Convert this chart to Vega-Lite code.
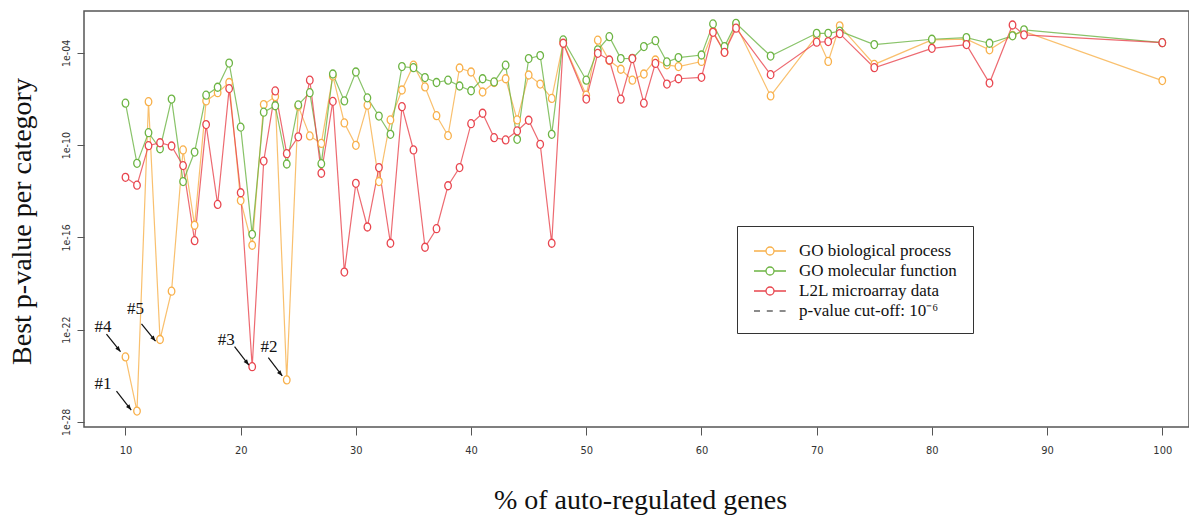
{
  "$schema": "https://vega.github.io/schema/vega-lite/v6.json",
  "width": 1105,
  "height": 416,
  "autosize": {"type": "none"},
  "padding": {"left": 84, "top": 11, "right": 0, "bottom": 91},
  "background": "white",
  "config": {
    "view": {"stroke": "#555", "strokeWidth": 1.5},
    "axis": {"grid": false, "domain": false}
  },
  "datasets": {
    "pv": [
      {"x": 10, "bp": 1.7e-24, "mf": 5.4e-8, "l2l": 8.1e-13},
      {"x": 11, "bp": 5.1e-28, "mf": 6.6e-12, "l2l": 2.5e-13},
      {"x": 12, "bp": 6.8e-8, "mf": 6.5e-10, "l2l": 9.3e-11},
      {"x": 13, "bp": 2.3e-23, "mf": 5.9e-11, "l2l": 1.45e-10},
      {"x": 14, "bp": 3.2e-20, "mf": 1.0e-7, "l2l": 8.9e-11},
      {"x": 15, "bp": 4.9e-11, "mf": 4.3e-13, "l2l": 4.7e-12},
      {"x": 16, "bp": 6.2e-16, "mf": 3.6e-11, "l2l": 6.2e-17},
      {"x": 17, "bp": 7.6e-8, "mf": 1.8e-7, "l2l": 2.2e-9},
      {"x": 18, "bp": 2.6e-7, "mf": 5.9e-7, "l2l": 1.4e-14},
      {"x": 19, "bp": 1.2e-6, "mf": 2.2e-5, "l2l": 4.8e-7},
      {"x": 20, "bp": 2.5e-14, "mf": 1.5e-9, "l2l": 8.1e-14},
      {"x": 21, "bp": 3.1e-17, "mf": 1.6e-16, "l2l": 3.9e-25},
      {"x": 22, "bp": 4.4e-8, "mf": 1.4e-8, "l2l": 9.3e-12},
      {"x": 23, "bp": 1.45e-7, "mf": 3.7e-8, "l2l": 3.4e-7},
      {"x": 24, "bp": 5.4e-26, "mf": 6.0e-12, "l2l": 2.8e-11},
      {"x": 25, "bp": 3.5e-8, "mf": 4.2e-8, "l2l": 3.5e-10},
      {"x": 26, "bp": 4.0e-10, "mf": 2.6e-7, "l2l": 1.7e-6},
      {"x": 27, "bp": 1.3e-10, "mf": 6.3e-12, "l2l": 1.5e-12},
      {"x": 28, "bp": 3.2e-6, "mf": 4.3e-6, "l2l": 7.1e-8},
      {"x": 29, "bp": 2.8e-9, "mf": 7.6e-8, "l2l": 5.6e-19},
      {"x": 30, "bp": 9.8e-11, "mf": 5.8e-6, "l2l": 3.3e-13},
      {"x": 31, "bp": 4.0e-8, "mf": 1.2e-7, "l2l": 4.8e-16},
      {"x": 32, "bp": 4.3e-13, "mf": 7.9e-9, "l2l": 3.5e-12},
      {"x": 33, "bp": 4.4e-9, "mf": 5.1e-10, "l2l": 4.2e-17},
      {"x": 34, "bp": 3.9e-7, "mf": 1.3e-5, "l2l": 3.2e-8},
      {"x": 35, "bp": 1.6e-5, "mf": 1.1e-5, "l2l": 4.9e-11},
      {"x": 36, "bp": 6.2e-7, "mf": 2.5e-6, "l2l": 2.3e-17},
      {"x": 37, "bp": 8.3e-9, "mf": 1.2e-6, "l2l": 3.7e-16},
      {"x": 38, "bp": 4.2e-10, "mf": 1.7e-6, "l2l": 2.3e-13},
      {"x": 39, "bp": 1.05e-5, "mf": 7.1e-7, "l2l": 3.5e-12},
      {"x": 40, "bp": 5.8e-6, "mf": 3.5e-7, "l2l": 2.5e-9},
      {"x": 41, "bp": 2.9e-7, "mf": 2.1e-6, "l2l": 1.2e-8},
      {"x": 42, "bp": 1.2e-6, "mf": 1.3e-6, "l2l": 3.1e-10},
      {"x": 43, "bp": 2.1e-6, "mf": 1.6e-5, "l2l": 2.2e-10},
      {"x": 44, "bp": 4.4e-9, "mf": 2.4e-10, "l2l": 8.5e-10},
      {"x": 45, "bp": 3.7e-6, "mf": 4.3e-5, "l2l": 4.2e-9},
      {"x": 46, "bp": 9.5e-7, "mf": 6.8e-5, "l2l": 1.15e-10},
      {"x": 47, "bp": 1.1e-7, "mf": 5.1e-10, "l2l": 4.2e-17},
      {"x": 48, "bp": 4.7e-4, "mf": 7.1e-4, "l2l": 4.3e-4},
      {"x": 50, "bp": 1.8e-7, "mf": 1.7e-6, "l2l": 1.0e-7},
      {"x": 51, "bp": 6.8e-4, "mf": 1.6e-4, "l2l": 9.5e-5},
      {"x": 52, "bp": 3.2e-5, "mf": 1.15e-3, "l2l": 3.5e-5},
      {"x": 53, "bp": 8.7e-6, "mf": 4.3e-5, "l2l": 9.8e-8},
      {"x": 54, "bp": 1.7e-6, "mf": 4.5e-5, "l2l": 4.3e-5},
      {"x": 55, "bp": 4.3e-6, "mf": 2.6e-4, "l2l": 5.4e-8},
      {"x": 56, "bp": 3.5e-5, "mf": 6.3e-4, "l2l": 2.1e-5},
      {"x": 57, "bp": 1.7e-5, "mf": 2.6e-5, "l2l": 9.5e-7},
      {"x": 58, "bp": 1.3e-5, "mf": 5.0e-5, "l2l": 2.1e-6},
      {"x": 60, "bp": 2.8e-5, "mf": 7.4e-5, "l2l": 2.6e-6},
      {"x": 61, "bp": 2.5e-3, "mf": 7.8e-3, "l2l": 2.2e-3},
      {"x": 62, "bp": 1.1e-4, "mf": 2.6e-4, "l2l": 1.1e-4},
      {"x": 63, "bp": 6.6e-3, "mf": 8.5e-3, "l2l": 4.1e-3},
      {"x": 66, "bp": 1.6e-7, "mf": 6.3e-5, "l2l": 3.9e-6},
      {"x": 70, "bp": 1.3e-3, "mf": 1.9e-3, "l2l": 5.0e-4},
      {"x": 71, "bp": 2.8e-5, "mf": 1.9e-3, "l2l": 5.5e-4},
      {"x": 72, "bp": 5.8e-3, "mf": 2.6e-3, "l2l": 1.8e-3},
      {"x": 75, "bp": 1.8e-5, "mf": 3.5e-4, "l2l": 1.1e-5},
      {"x": 80, "bp": 7.1e-4, "mf": 7.8e-4, "l2l": 2.0e-4},
      {"x": 83, "bp": 7.9e-4, "mf": 1.0e-3, "l2l": 3.5e-4},
      {"x": 85, "bp": 1.6e-4, "mf": 4.3e-4, "l2l": 1.1e-6},
      {"x": 87, "bp": 1.4e-3, "mf": 1.3e-3, "l2l": 6.6e-3},
      {"x": 88, "bp": 2.5e-3, "mf": 3.2e-3, "l2l": 1.5e-3},
      {"x": 100, "bp": 1.6e-6, "mf": 4.7e-4, "l2l": 4.7e-4}
    ],
    "ann": [
      {"label": "#4", "lx": 8.06, "ly": 1.55e-22, "ax": 8.35, "ay": 5.2e-23, "bx": 9.57, "by": 3.7e-24},
      {"label": "#1", "lx": 8.06, "ly": 2.9e-26, "ax": 9.22, "ay": 1.0e-26, "bx": 10.5, "by": 5.9e-28},
      {"label": "#5", "lx": 10.87, "ly": 2.1e-21, "ax": 11.39, "ay": 2.4e-22, "bx": 12.61, "by": 1.8e-23},
      {"label": "#3", "lx": 18.75, "ly": 2.1e-23, "ax": 19.47, "ay": 7.8e-24, "bx": 20.71, "by": 5.0e-25},
      {"label": "#2", "lx": 22.45, "ly": 7.8e-24, "ax": 22.4, "ay": 1.5e-24, "bx": 23.61, "by": 9.8e-26}
    ]
  },
  "layer": [
    {
      "mark": {"type": "rule", "color": "#707070", "strokeWidth": 2},
      "encoding": {
        "y": {"datum": 1e-6, "type": "quantitative", "scale": {"type": "log", "domain": [4.68e-29, 0.0537], "nice": false}},
        "strokeDash": {
          "datum": "p-value cut-off: 10\u207b\u2076", "type": "nominal",
          "scale": {"domain": ["p-value cut-off: 10\u207b\u2076"], "range": [[6, 4]]},
          "legend": {
            "title": null,
            "orient": "none",
            "legendX": 653,
            "legendY": 275,
            "labelFont": "Liberation Serif",
            "labelFontSize": 17,
            "labelColor": "#111",
            "labelOffset": 28,
            "padding": 16,
            "symbolSize": 256,
            "symbolStrokeWidth": 1.6,
            "symbolStrokeColor": "#666666",
            "symbolType": "M-1,0H-0.2M0.6,0H1.4M2.2,0H3"
          }
        }
      }
    },
    {
      "data": {"name": "pv"},
      "transform": [{"fold": ["bp", "mf", "l2l"], "as": ["series", "p"]}],
      "encoding": {
        "x": {
          "field": "x", "type": "quantitative",
          "scale": {"domain": [6.4, 102.32], "nice": false, "zero": false},
          "axis": {
            "values": [10, 20, 30, 40, 50, 60, 70, 80, 90, 100],
            "format": "d",
            "labelFont": "Liberation Sans Narrow, DejaVu Sans Condensed, Liberation Sans, sans-serif",
            "labelFontSize": 11,
            "labelColor": "#333",
            "labelPadding": 9,
            "labelFlush": false,
            "tickSize": 8,
            "tickColor": "#555",
            "title": "% of auto-regulated genes",
            "titleFont": "Liberation Serif",
            "titleFontSize": 28,
            "titleFontWeight": "normal",
            "titleColor": "#111",
            "titleX": 556,
            "titleY": 81,
            "titleBaseline": "alphabetic"
          }
        },
        "y": {
          "field": "p", "type": "quantitative",
          "scale": {"type": "log", "domain": [4.68e-29, 0.0537], "nice": false},
          "axis": {
            "values": [1e-4, 1e-10, 1e-16, 1e-22, 1e-28],
            "labelExpr": "'1e-' + (round(-log(datum.value)/LN10) < 10 ? '0' : '') + round(-log(datum.value)/LN10)",
            "labelAngle": -90,
            "labelAlign": "center",
            "labelBaseline": "bottom",
            "labelFont": "Liberation Sans Narrow, DejaVu Sans Condensed, Liberation Sans, sans-serif",
            "labelFontSize": 10.5,
            "labelColor": "#333",
            "labelPadding": 6,
            "labelFlush": false,
            "labelOverlap": false,
            "tickSize": 7,
            "tickColor": "#555",
            "title": "Best p-value per category",
            "titleFont": "Liberation Serif",
            "titleFontSize": 28,
            "titleFontWeight": "normal",
            "titleColor": "#111",
            "titleAngle": -90,
            "titleX": -54,
            "titleY": 210,
            "titleAlign": "center",
            "titleBaseline": "alphabetic"
          }
        },
        "color": {
          "field": "series", "type": "nominal",
          "scale": {"domain": ["bp", "mf", "l2l"], "range": ["#F8B04A", "#6CB443", "#E8454E"]},
          "legend": {
            "title": "\u00a0",
            "titleOrient": "bottom",
            "titleFontSize": 17,
            "titlePadding": 2,
            "orient": "none",
            "legendX": 653,
            "legendY": 215,
            "labelExpr": "{'bp': 'GO biological process', 'mf': 'GO molecular function', 'l2l': 'L2L microarray data'}[datum.value]",
            "labelFont": "Liberation Serif",
            "labelFontSize": 17,
            "labelColor": "#111",
            "labelOffset": 28,
            "padding": 16,
            "rowPadding": 3,
            "strokeColor": "#333",
            "symbolSize": 256,
            "symbolStrokeWidth": 1.3,
            "symbolOpacity": 1,
            "symbolType": "M-1,0H0.5M1.5,0H3M1.5,0A0.5,0.5,0,1,1,0.5,0A0.5,0.5,0,1,1,1.5,0"
          }
        }
      },
      "layer": [
        {"mark": {"type": "line", "strokeWidth": 1.2, "opacity": 0.8}},
        {"mark": {"type": "point", "shape": "M0.82,0A0.82,1,0,1,1,-0.82,0A0.82,1,0,1,1,0.82,0", "filled": false, "fill": "white", "fillOpacity": 1, "size": 64, "strokeWidth": 1.3, "opacity": 1}}
      ]
    },
    {
      "data": {"name": "ann"},
      "layer": [
        {
          "mark": {"type": "rule", "color": "#111", "strokeWidth": 1.2},
          "encoding": {
            "x": {"field": "ax", "type": "quantitative", "scale": {"domain": [6.4, 102.32], "nice": false, "zero": false}},
            "y": {"field": "ay", "type": "quantitative", "scale": {"type": "log", "domain": [4.68e-29, 0.0537], "nice": false}},
            "x2": {"field": "bx"},
            "y2": {"field": "by"}
          }
        },
        {
          "mark": {"type": "point", "shape": "M0,0L-0.55,1.4L0.55,1.4Z", "filled": true, "color": "#111", "size": 64, "angle": 141, "opacity": 1},
          "encoding": {
            "x": {"field": "bx", "type": "quantitative", "scale": {"domain": [6.4, 102.32], "nice": false, "zero": false}},
            "y": {"field": "by", "type": "quantitative", "scale": {"type": "log", "domain": [4.68e-29, 0.0537], "nice": false}}
          }
        },
        {
          "mark": {"type": "text", "font": "Liberation Serif", "fontSize": 17, "color": "#111", "baseline": "middle", "align": "center"},
          "encoding": {
            "x": {"field": "lx", "type": "quantitative", "scale": {"domain": [6.4, 102.32], "nice": false, "zero": false}},
            "y": {"field": "ly", "type": "quantitative", "scale": {"type": "log", "domain": [4.68e-29, 0.0537], "nice": false}},
            "text": {"field": "label"}
          }
        }
      ]
    }
  ]
}
